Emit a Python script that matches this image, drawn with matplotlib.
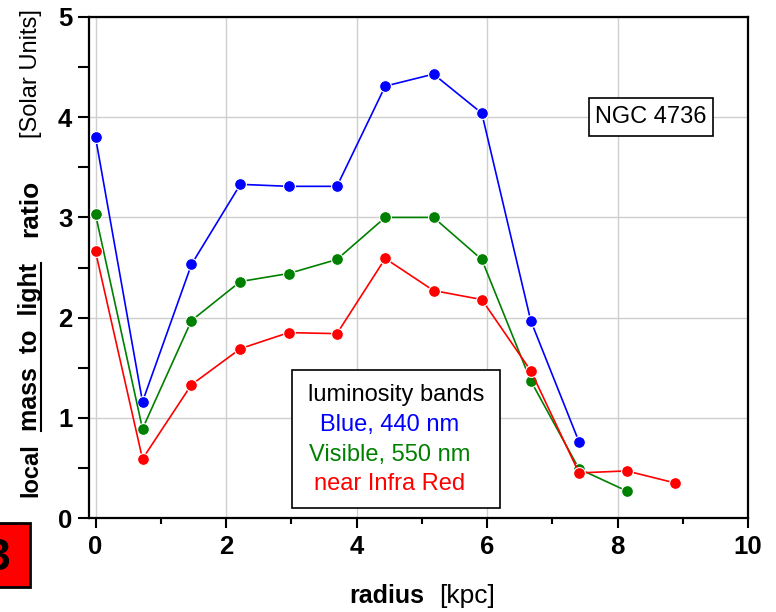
import matplotlib
matplotlib.use('Agg')
import matplotlib.pyplot as plt
from matplotlib.transforms import IdentityTransform
from matplotlib.patches import Rectangle
from matplotlib.lines import Line2D

plt.rcParams['font.family'] = ['Liberation Sans', 'DejaVu Sans']

# data
radius = [0, 0.72, 1.47, 2.22, 2.96, 3.70, 4.44, 5.18, 5.92, 6.67, 7.41, 8.14, 8.88]
ml_blue = [3.80, 1.16, 2.53, 3.33, 3.31, 3.31, 4.31, 4.43, 4.04, 1.97, 0.76]
ml_visible = [3.03, 0.89, 1.97, 2.36, 2.44, 2.58, 3.00, 3.00, 2.58, 1.37, 0.49, 0.27]
ml_ir = [2.66, 0.59, 1.33, 1.69, 1.85, 1.84, 2.59, 2.27, 2.18, 1.47, 0.45, 0.47, 0.35]

band_labels = ['Blue, 440 nm', 'Visible, 550 nm', 'near Infra Red']
band_colors = ['#0000ff', '#008000', '#ff0000']

W, H = 776, 612
fig = plt.figure(figsize=(W / 100, H / 100), dpi=100)
ax = fig.add_axes([89 / W, 1 - 518 / H, (748 - 89) / W, (518 - 17) / H])

for vals, c in zip([ml_blue, ml_visible, ml_ir], band_colors):
    ax.plot(radius[:len(vals)], vals, '-o', color=c, lw=1.2, ms=8.5,
            mec='white', mew=0.8, zorder=3)

ax.set_xlim(-0.1, 10)
ax.set_ylim(0, 5)
ax.set_xticks([0, 2, 4, 6, 8, 10])
ax.set_xticks([1, 3, 5, 7, 9], minor=True)
ax.set_yticks([0, 1, 2, 3, 4, 5])
ax.set_yticks([0.5, 1.5, 2.5, 3.5, 4.5], minor=True)
ax.grid(True, which='major', color='#cfcfcf', lw=1)
ax.set_axisbelow(True)
ax.tick_params(which='both', direction='out', top=False, right=False,
               width=1.5, labelsize=18.5)
ax.tick_params(axis='x', which='major', length=7.5, pad=5)
ax.tick_params(axis='x', which='minor', length=4.5)
ax.tick_params(axis='y', which='both', length=8, pad=4)
for lab in ax.get_xticklabels() + ax.get_yticklabels():
    lab.set_fontweight('bold')
for sp in ax.spines.values():
    sp.set_linewidth(1.6)

renderer = fig.canvas.get_renderer()
ident = IdentityTransform()


def chain_text(pieces, x, y, vertical):
    # put text pieces one after another, in pixel coordinates
    out = []
    pos = y if vertical else x
    for s, weight, size, gap in pieces:
        pos += gap
        if vertical:
            t = fig.text(x, pos, s, rotation=90, rotation_mode='anchor',
                         ha='left', va='baseline', transform=ident,
                         fontweight=weight, fontsize=size)
        else:
            t = fig.text(pos, y, s, ha='left', va='baseline', transform=ident,
                         fontweight=weight, fontsize=size)
        bb = t.get_window_extent(renderer)
        out.append((t, bb))
        pos = bb.y1 if vertical else bb.x1
    return out


# y label
ylab = chain_text([('local', 'bold', 17, 0),
                   ('mass  to  light', 'bold', 18, 12),
                   ('ratio', 'bold', 19, 26),
                   ('[Solar Units]', 'normal', 17, 42)],
                  37, H - 497, True)
bb = ylab[1][1]
fig.add_artist(Line2D([40.5, 40.5], [bb.y0, bb.y1], transform=ident,
                      color='black', lw=1.5))

# x label
chain_text([('radius', 'bold', 18, 0), ('[kpc]', 'normal', 19, 15)],
           349, H - 603, False)

# legend box
fig.add_artist(Rectangle((292, H - 508), 208, 138, transform=ident,
                         facecolor='white', edgecolor='black', lw=1.2, zorder=5))
fig.text(396, H - 401.5, 'luminosity bands', transform=ident, ha='center',
         va='baseline', fontsize=17, zorder=6)
for i, (lab, c) in enumerate(zip(band_labels, band_colors)):
    fig.text(390, H - 431 - i * 29.5, lab, transform=ident, ha='center',
             va='baseline', fontsize=17, color=c, zorder=6)

# galaxy name box
fig.add_artist(Rectangle((588.5, H - 136), 124, 37.7, transform=ident,
                         facecolor='white', edgecolor='black', lw=1.2, zorder=5))
fig.text(651, H - 123, 'NGC 4736', transform=ident, ha='center',
         va='baseline', fontsize=17, zorder=6)

# panel badge, cut off at the left edge
fig.add_artist(Rectangle((-10, H - 587), 40, 64.3, transform=ident,
                         facecolor='#ff0000', edgecolor='black', lw=2, zorder=5))
fig.text(-2, H - 570, '3', transform=ident, ha='center', va='baseline',
         fontsize=32, fontweight='bold', zorder=6)

fig.savefig('out.png', dpi=100)
